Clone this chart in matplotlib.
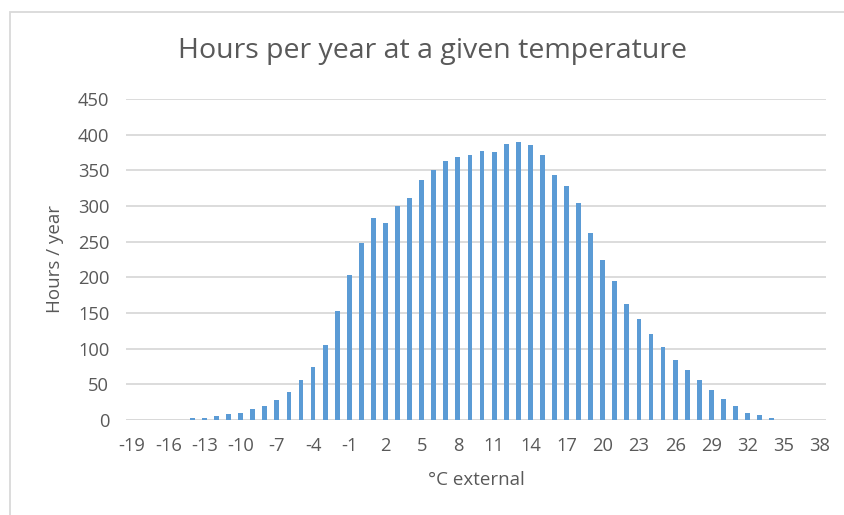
import numpy as np
import matplotlib.pyplot as plt
from matplotlib.patches import Rectangle

# temperature categories (°C) and hours per year
temps = list(range(-19, 39))
hours = [0, 0, 0, 0, 0, 3, 3, 5, 9, 10,
         16, 20, 28, 39, 56, 75, 105, 153, 203, 248,
         283, 276, 300, 311, 336, 350, 363, 369, 371, 377,
         376, 387, 390, 385, 371, 344, 328, 304, 262, 224,
         195, 162, 142, 121, 103, 84, 70, 56, 42, 30,
         19, 10, 7, 3, 0, 0, 0, 0]
yticks = list(range(0, 451, 50))

bar_color = '#5B9BD5'
text_color = '#595959'
grid_color = '#D9D9D9'

plt.rcParams['font.family'] = ['Open Sans', 'DejaVu Sans']

fig = plt.figure(figsize=(8.44, 5.15), dpi=100)
W, H = 844, 515
ax = fig.add_axes([126 / W, 1 - 420 / H, (826 - 126) / W, (420 - 99) / H])

x = np.arange(len(temps))
ax.bar(x, hours, width=0.4, color=bar_color, zorder=3)

ax.set_xlim(-0.5, len(temps) - 0.5)
ax.set_ylim(0, 450)
ax.set_yticks(yticks)
ax.set_xticks(x[::3])
ax.set_xticklabels([str(t) for t in temps[::3]])
ax.tick_params(axis='both', length=0, colors=text_color, labelsize=13.2)
ax.tick_params(axis='x', pad=12)
ax.tick_params(axis='y', pad=12)
ax.grid(axis='y', color=grid_color, linewidth=1.3, zorder=0)
for s in ax.spines.values():
    s.set_visible(False)
ax.axhline(0, color=grid_color, linewidth=1.3, zorder=2)

ax.set_ylabel('Hours / year', color=text_color, fontsize=13.5, labelpad=10)
ax.set_xlabel('°C external', color=text_color, fontsize=13.5, labelpad=12)
fig.text(433 / W, 1 - 51 / H, 'Hours per year at a given temperature',
         ha='center', va='center', color=text_color, fontsize=20.5)

# chart border
fig.patches.append(Rectangle((10 / W, -0.1), 1.2, 1.1 - 12 / H,
                             transform=fig.transFigure, fill=False,
                             edgecolor=grid_color, linewidth=1.3))

fig.savefig('out.png', dpi=100)
